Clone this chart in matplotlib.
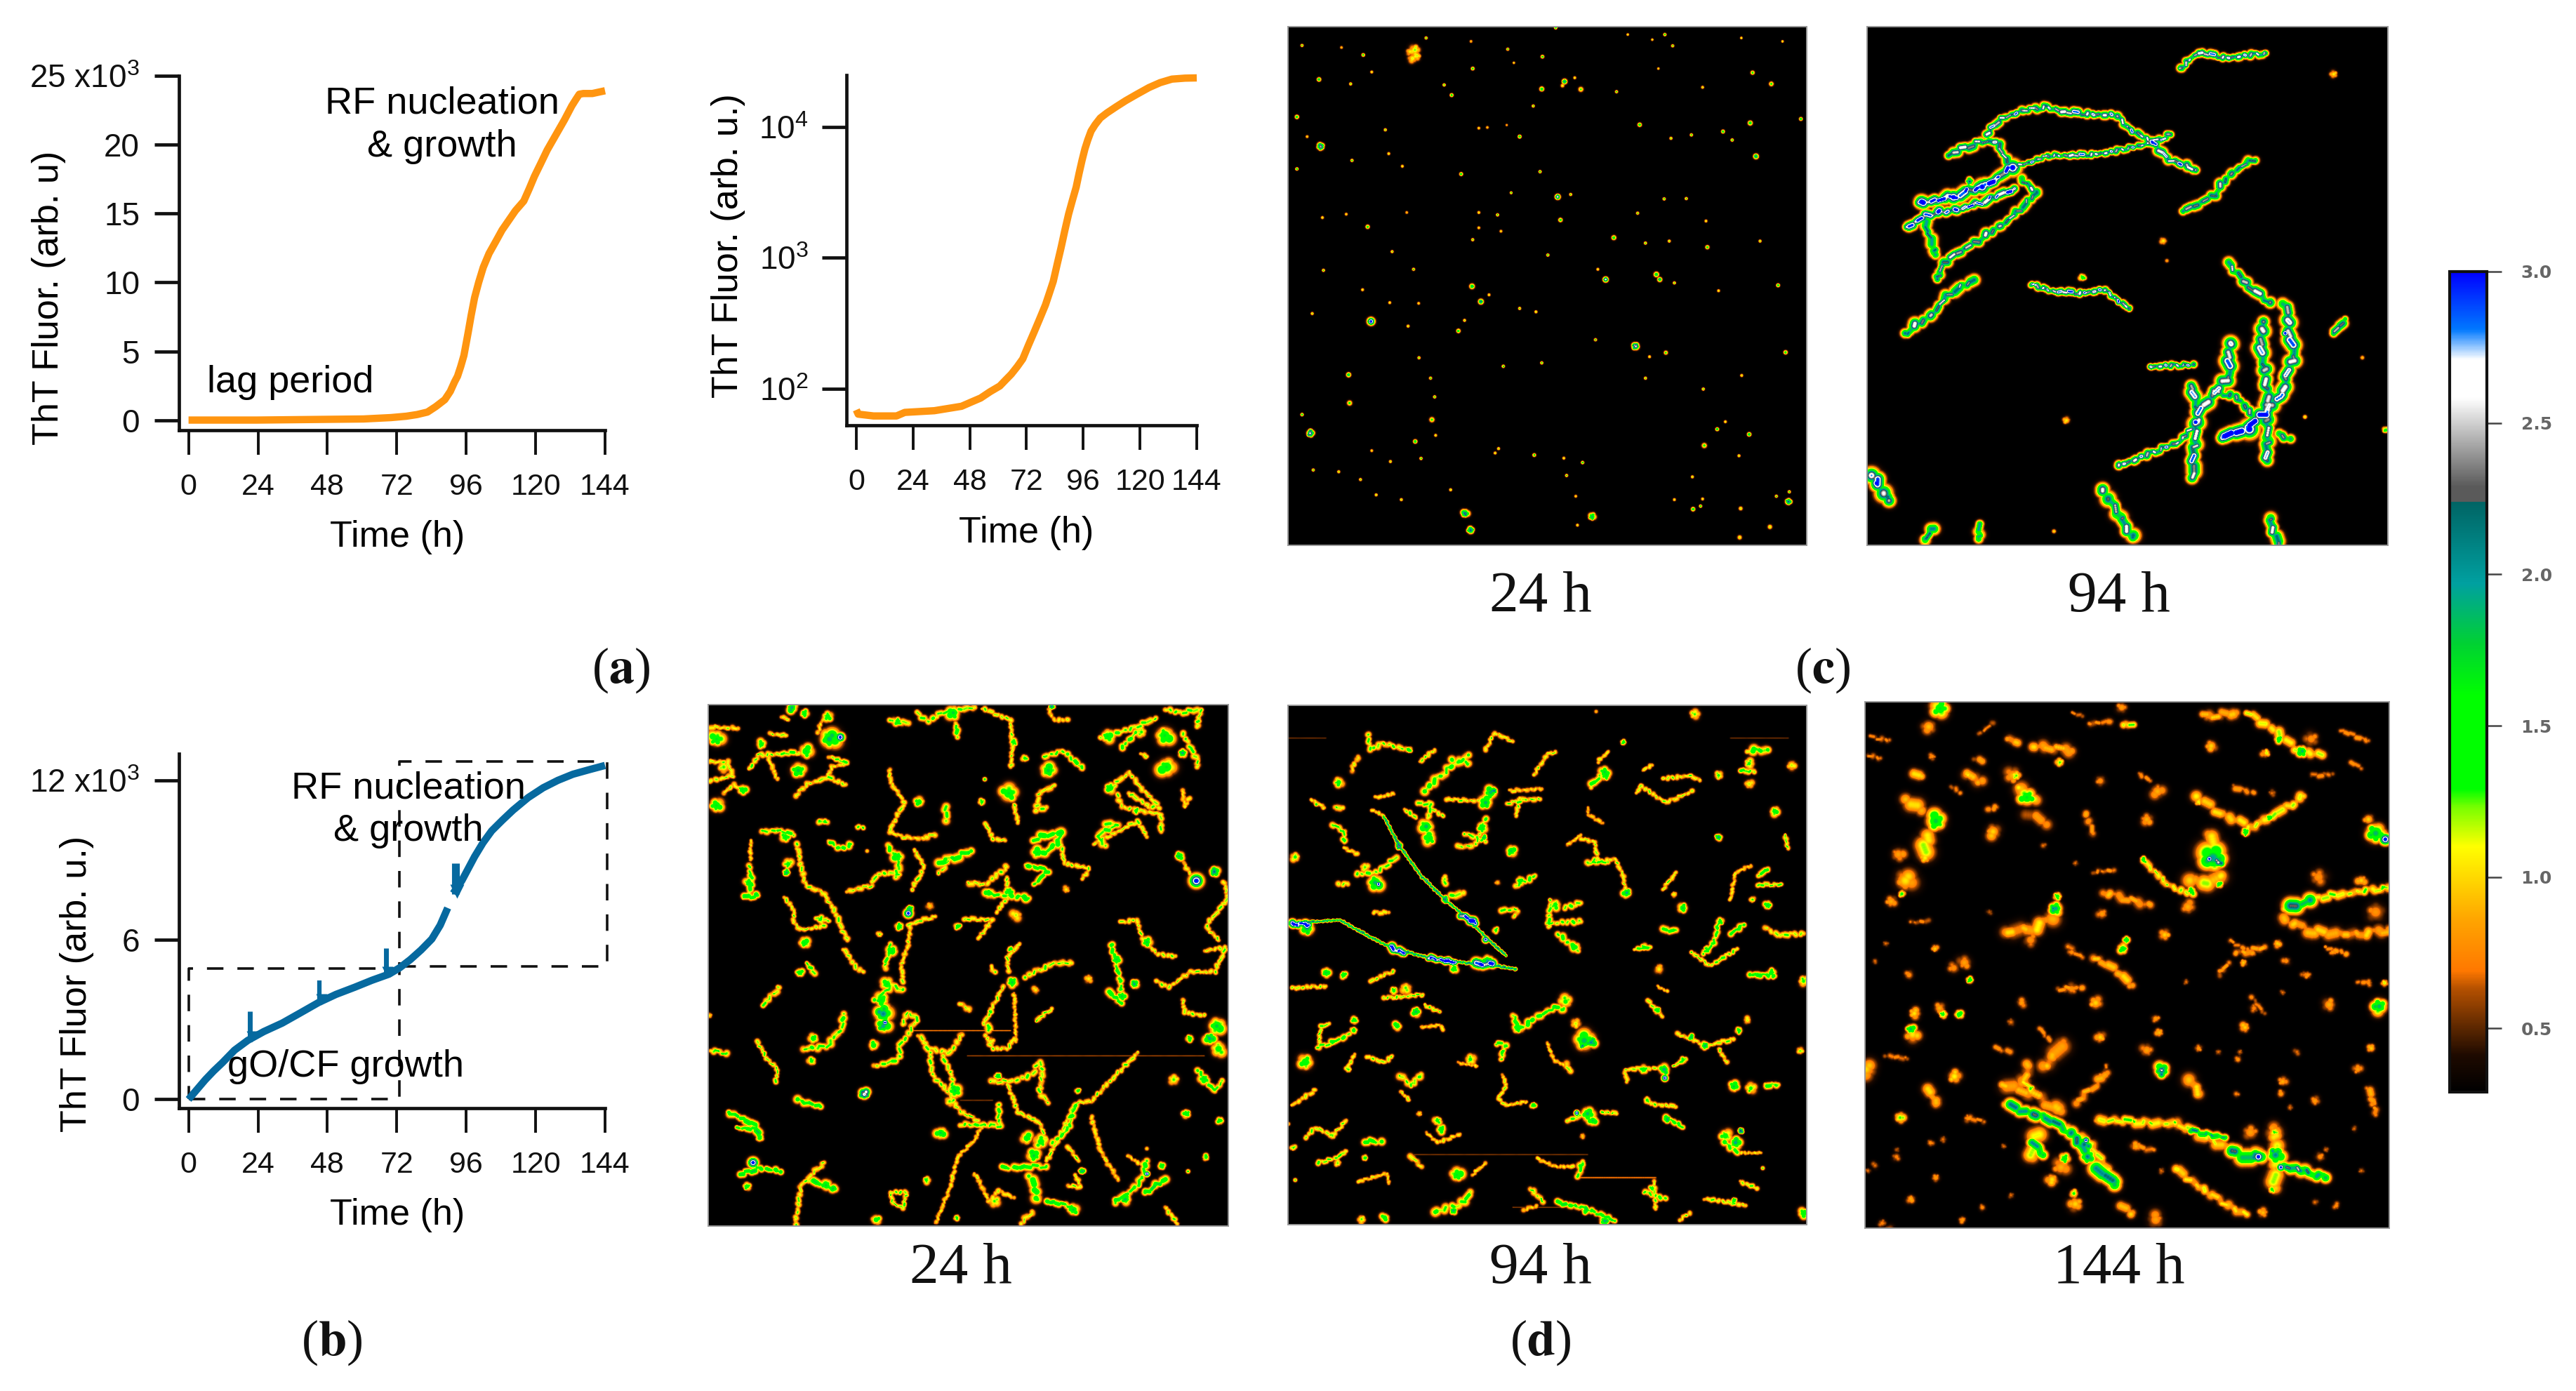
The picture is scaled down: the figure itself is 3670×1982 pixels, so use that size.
import numpy as np
import matplotlib
matplotlib.use("Agg")
import matplotlib.pyplot as plt
from matplotlib.colors import LinearSegmentedColormap, Normalize
from matplotlib.cm import ScalarMappable

W, H = 3670, 1982
DPI = 100
plt.rcParams['font.family'] = ['Liberation Sans', 'DejaVu Sans']
plt.rcParams['mathtext.fontset'] = 'custom'
plt.rcParams['mathtext.rm'] = 'Liberation Sans'
plt.rcParams['mathtext.it'] = 'Liberation Sans'
plt.rcParams['mathtext.default'] = 'regular'

# ---------------- curve data ----------------
time_ticks = [0, 24, 48, 72, 96, 120, 144]

a_time = [0, 23.5, 60.5, 70, 75.3, 79, 82.6, 85.5, 88.6, 90.5, 92, 93, 94.1, 95.2, 96, 96.7, 97.7, 98.9, 100.3, 101.9, 103.9, 106.3, 108.4, 110.7, 113, 115.9, 117.8, 119.6, 121.7, 124, 127, 130, 132.5, 134, 135.1, 136.5, 139.6, 144]
a_fluor = [0.02, 0.02, 0.1, 0.2, 0.3, 0.42, 0.6, 1.0, 1.5, 2.1, 2.8, 3.2, 3.9, 4.7, 5.6, 6.4, 7.6, 8.9, 10, 11.1, 12.1, 13.0, 13.8, 14.5, 15.2, 15.9, 16.8, 17.7, 18.6, 19.6, 20.7, 21.8, 22.8, 23.3, 23.65, 23.7, 23.7, 23.9]
a_yticks = [0, 5, 10, 15, 20, 25]
a_ylabels = ['0', '5', '10', '15', '20', '25 x10$^{3}$']

log_time = [0, 0.8, 7.3, 17, 20.5, 33, 44.5, 48.5, 52.6, 56.6, 60.7, 63, 65.5, 68, 70.4, 72.8, 75.2, 77.5, 80, 81.7, 83.3, 85, 86.6, 88.2, 89.8, 91.4, 93, 94.2, 95.5, 96.7, 97.9, 99.3, 101, 103.2, 106, 110, 114, 118.5, 123.8, 128.5, 133.5, 139, 144]
log_fluor = [69, 64, 62, 62, 66, 68, 73.5, 79, 85, 95, 105, 116, 129, 147, 169, 215, 271, 340, 437, 540, 661, 900, 1195, 1620, 2160, 2750, 3470, 4400, 5580, 6800, 7950, 9300, 10400, 11700, 12800, 14300, 15900, 17700, 20000, 21800, 23200, 23600, 23700]
log_yticks = [100, 1000, 10000]
log_ylabels = ['10$^{2}$', '10$^{3}$', '10$^{4}$']

b_time_early = [0, 2.9, 5.8, 8.7, 11.7, 15.9, 20.5, 26, 32.4, 38.6, 44.9, 51, 57.5, 63.4, 69.3, 73, 76.7, 80.4, 84.1, 87, 89.6]
b_fluor_early = [0, 0.37, 0.74, 1.07, 1.38, 1.85, 2.22, 2.55, 2.87, 3.25, 3.64, 3.95, 4.22, 4.48, 4.71, 4.95, 5.26, 5.62, 6.03, 6.55, 7.2]
b_time_late = [91.5, 94.5, 96.7, 98.9, 101.8, 104.8, 108.5, 112.2, 117.4, 122.6, 127.7, 132.9, 138.5, 144]
b_fluor_late = [7.75, 8.23, 8.68, 9.13, 9.65, 10.1, 10.5, 10.88, 11.35, 11.72, 12.0, 12.23, 12.4, 12.56]
b_yticks = [0, 6, 12]
b_ylabels = ['0', '6', '12 x10$^{3}$']
seed_time = [21.3, 45.3, 68.2, 92.3]
seed_top = [3.32, 4.48, 5.7, 8.87]
seed_base = [2.25, 3.64, 4.67, 7.71]
box_early = ([0, 73, 73, 0, 0], [0, 0, 4.93, 4.93, 0])
box_late = ([73, 144.8, 144.8, 73, 73], [5.0, 5.0, 12.72, 12.72, 5.0])

# colour scale of the height images: (height, colour)
scale_heights = [0.29, 0.41, 0.63, 0.69, 0.86, 1.10, 1.23, 1.29, 1.60, 1.77, 1.97, 2.24, 2.241, 2.29, 2.47, 2.585, 2.71, 2.81, 3.0]
scale_colours = ['#000000', '#1e0a00', '#b45000', '#ff7800', '#ffa500', '#ffff00', '#78ff00', '#00ff00', '#00ff00',
                 '#00d232', '#00a0a0', '#006464', '#5a5a5a', '#5a5a5a', '#bebebe', '#ffffff', '#ffffff', '#0078ff', '#0000ff']
scale_ticks = [0.5, 1.0, 1.5, 2.0, 2.5, 3.0]

# surface texture read as typical changes along a fibre
bead_height = [1.0, 0.86, 1.12, 0.93, 1.2, 0.8, 1.05, 0.9, 1.15, 0.84, 1.08, 0.95, 1.22, 0.88, 1.0, 1.1, 0.82, 1.17]
bead_width = [1.0, 0.8, 1.25, 0.9, 1.1, 0.7, 1.3, 1.0, 0.85, 1.2, 0.75, 1.05]
bead_shift = [0.0, 0.7, -0.5, 0.3, -0.8, 0.5, -0.2, 0.9, -0.6, 0.1, -0.9, 0.4, 0.6]

# ---------------- height images: (height, width, x, y, x, y, ...) ----------------
c24_dots = [
(0.95,9,392,95),(0.85,8,385,120),(0.9,7,398,112),(0.8,7,378,100),(1.2,3,60,82),(0.8,3,176,88),(1.3,3.5,240,110),(1.6,4,110,182),(1.2,3,203,195),(1.0,3,265,160),
(1.5,4,45,292),(1.2,3,305,330),(0.9,3,75,350),(2.3,6,115,380),(1.0,3,315,400),(1.3,3,207,420),(1.5,3,45,445),(1.0,3,355,437),(1.2,3,425,60),(0.8,3,557,70),
(1.2,3,665,93),(1.4,3.5,562,150),(1.3,3,478,198),(1.5,3.5,500,228),(1.3,3.5,767,115),(1.0,2.5,683,133),(1.6,4.5,765,210),(1.9,5,832,188),(0.9,4,826,200),(1.1,5,880,211),
(1.0,3,862,177),(1.2,3,985,218),(1.1,2.5,1018,50),(1.4,3,1127,50),(1.2,3,1150,83),(1.0,2.5,1108,150),(1.0,2.5,1090,65),(1.1,2.5,1352,60),(1.1,2.5,1473,70),(1.3,4,1385,162),
(1.2,4.5,1440,195),(1.0,3,1238,205),(1.5,3.5,1527,298),(1.6,4.5,1378,310),(1.6,3.5,1298,335),(1.4,3,1325,360),(1.9,5,1395,408),(1.3,3,1205,345),(1.2,3,1145,355),(1.5,4,1053,315),
(0.9,3,580,325),(0.8,3,605,323),(0.8,2.5,662,316),(1.6,3.5,700,350),(1.2,3,740,260),(1.4,3,760,453),(1.5,3.5,528,460),(1.5,2.5,675,515),(2.5,5,812,527),(1.2,3,850,520),
(1.3,3,1125,533),(1.2,3,1190,532),(1.2,3,1047,575),(1.5,4,820,595),(1.5,4.5,977,647),(1.3,3,1070,663),(1.3,4,1252,675),(1.1,3,1140,657),(1.1,3,1407,657),(1.0,3,1248,598),
(1.0,3,580,573),(1.3,3,635,580),(0.9,3,580,618),(1.2,3,562,653),(0.9,3,645,628),(1.4,4,253,615),(0.9,3,190,578),(0.8,3,368,573),(1.0,3,120,588),(1.1,3,325,688),
(1.2,3,123,743),(1.2,3,388,740),(1.3,3,783,698),(1.0,3,930,740),(2.5,5,953,770),(1.6,5,1102,755),(1.7,4.5,1112,770),(1.2,3,1155,780),(1.6,3.5,1460,787),(1.0,3,1285,803),
(1.7,5,560,790),(2.0,5,586,835),(1.2,3,700,855),(1.1,3,748,865),(1.0,3,610,815),(3.0,7,263,893),(1.1,3,90,870),(1.0,3,238,800),(1.0,3,318,838),(0.9,3,403,840),
(1.1,3,538,890),(1.5,4,520,921),(1.1,3,372,907),(1.2,3,404,1000),(1.4,3,652,1025),(1.3,3,765,1015),(1.2,3,923,947),(2.4,6,1042,967),(1.0,3,1082,997),(1.2,4,1130,985),
(1.4,4,1482,984),(1.2,3,1070,1060),(1.0,3,1353,1052),(1.7,4.5,197,1050),(1.2,5,200,1133),(1.2,3,438,1060),(1.3,3,450,1115),(1.2,5,442,1182),(1.6,3,60,1167),(2.4,6,84,1222),
(1.6,4,393,1246),(1.0,3,453,1228),(0.9,3,265,1273),(1.1,3,320,1305),(1.3,3,410,1296),(1.1,3,638,1267),(1.0,3,628,1280),(1.3,3.5,743,1286),(1.5,3,885,1308),(1.0,3,830,1295),
(1.2,3,838,1346),(1.2,3,1240,1092),(1.6,3.5,1281,1210),(1.7,4,1375,1225),(1.2,5,1243,1258),(1.1,3,1345,1288),(1.2,3,93,1330),(1.1,3,168,1335),(1.1,3,232,1358),(1.1,3,278,1403),
(1.1,3,352,1417),(1.1,3,497,1388),(2.1,6.5,540,1458),(2.0,6,556,1508),(1.7,6,913,1467),(1.0,3,870,1492),(1.6,4,1210,1445),(1.4,3,1232,1436),(1.0,4,1350,1443),(2.0,5.5,1490,1423),
(1.2,3,1455,1407),(1.3,3,1493,1394),(1.0,4.5,1436,1497),(0.95,4.5,1347,1528),(1.0,3,1155,1417),(0.9,3,865,1407),(1.0,3,1238,1415),(1.1,3,1208,1350),(1.0,3,1305,1188),(1.5,3,806,30),
]

c94_fibres = [
(2.3,7,245,405,335,365,380,365,410,425),(2.4,6,355,345,385,305,440,280,520,265,570,282,715,290,745,325,815,368,865,345),
(2.5,7,815,368,860,415,935,447),(2.4,5,425,440,530,405,620,405,700,395,815,368),(2.9,9,425,440,340,495,255,525,165,540),
(2.2,7,450,470,490,515,430,575,360,630,260,690,225,725,215,760),(2.7,7,430,500,340,540,250,565,185,575,130,610),
(2.0,8,175,580,210,690),(2.2,8,315,765,250,800,190,870,125,915),(2.5,5,475,775,540,795,610,800,680,790,750,845),
(2.4,5.5,890,158,940,110,1020,125,1130,112),(2.1,7,1100,415,1040,450,985,520,900,565),(2.2,8,1030,715,1080,780,1140,825),
(2.4,10,1185,825,1195,900,1210,970,1170,1100,1130,1130),(2.3,10,1120,880,1120,980,1135,1070,1135,1130,1135,1280),
(2.4,10,1030,945,1030,1030,990,1085,945,1130,935,1200,925,1330),(2.3,9,925,1065,945,1170),(2.1,7,990,1085,1050,1095,1090,1150),
(2.9,10,1140,1130,1085,1180,1010,1215),(2.4,6,720,1295,820,1255,890,1225,925,1190),(2.4,5,810,1010,930,1005),(2.1,7,1350,875,1320,915),
(2.5,11,30,1320,50,1350,80,1395),(2.2,10,675,1365,725,1440,760,1500),(2.0,8,205,1475,180,1505),(1.8,8,330,1465,330,1505),(2.2,9,1140,1440,1165,1520),
(2.0,8,1170,1205,1200,1218),
(3.2,14,425,440),(3.2,13,340,495),(3.2,12,260,525),(3.2,16,1085,1190),(3.2,10,935,1170),(3.2,10,45,1345),(3.2,7,1185,915),(3.2,8,815,368),
(1.1,6,1320,172),(1.1,6,845,650),(0.9,4,855,707),(1.6,6,620,755),(1.1,6,575,1165),(1.0,4,1400,985),(1.2,4,1240,1155),(1.1,4,540,1483),(1.6,5,1465,1193),(2.3,6,305,480),
]

d24_fibres = [
(0.75,1.6,590,938,860,938),(0.65,1.5,740,1010,1400,1010),(0.6,1.5,720,1137,810,1137),
(1.05,4.5,20,70,100,75),(1.1,4.5,20,170,70,170,85,210,20,225),(1.05,4.5,60,260,85,235,120,255),(1.2,4.5,130,190,160,150,270,145),(1.05,4,180,150,210,220),
(1.1,4.5,260,270,290,235,350,215,400,235),(1.05,4,350,215,360,185,400,175),(1.0,4,320,90,340,40),(1.1,4,220,40,240,50),(1.1,4,190,90,235,95),(1.2,4,355,155,405,175),
(1.7,12,40,105),(1.6,8,165,120),(1.7,11,290,140),(1.8,12,268,195),(1.9,15,355,105),(3.2,8,385,100),(1.7,11,40,295),(1.7,8,112,250),(2.0,8,250,15),(1.7,7,285,32),
(1.6,8,350,40),(1.3,10,60,185),
(1.05,4,522,190,525,230,565,285,520,370,560,385,620,390),(1.3,6,520,410,550,470,540,500),(1.15,4.5,405,540,470,525,490,490,550,490),(1.1,4,590,420,620,470,585,535),(1.7,9,545,440),(1.15,5,625,385,650,380),
(1.2,6,525,55,575,60),(1.7,7,545,55),(1.2,5,600,30,630,55,680,25,760,15),(1.8,11,700,30),(1.3,5,705,60,712,100),(1.1,4,780,18,860,50,865,130,860,185),(1.6,6,870,115),(1.5,6,900,160),
(1.7,8,605,285),(1.5,6,780,285),(1.2,6,680,295,680,340),(1.6,4,788,220),(1.2,4.5,320,342,350,342),(1.4,4,435,355),(1.1,4,460,425),
(1.7,14,855,260),(1.1,4,870,290,880,345),(1.8,12,965,195),(1.1,5,985,235,940,260,930,310,960,300),(1.3,5,950,155,1010,140,1060,190),(1.0,4,965,20,980,50,1020,50),(2.2,5,975,12),
(1.7,10,1130,97),(1.2,5,1110,100,1200,75,1265,45),(1.3,5,1170,130,1210,85),(1.7,14,1290,95),(1.7,14,1295,185),(1.2,5,1290,20,1330,30,1390,20,1380,70),(1.2,5,1340,90,1380,160,1380,185),(2.0,7,1340,145),
(1.1,4.5,1138,245,1190,200,1220,240,1275,300,1250,300,1190,260),(1.7,9,1138,245),(1.1,4.5,1160,265,1170,300,1280,320,1280,370),(1.3,6,1130,345,1160,350,1100,380,1125,410),(1.1,4,1090,405,1215,340,1240,385),(1.6,6,1210,310),
(1.35,8,1225,85),(1.2,4,1225,150,1240,155),(1.0,4,1340,250,1345,300,1360,275),
(1.3,5,165,370,210,365,255,380),(1.7,8,232,385),(1.0,3.5,135,395,135,450),(1.3,5,130,465,140,510,130,555),(1.7,8,130,515),(1.5,5,115,558,155,552),(2.0,6,235,487),(1.5,8,240,462),
(1.1,4.5,265,405,275,470,290,525,340,545,375,610,405,680),(1.1,4.5,395,705,430,760,450,770),(1.4,5,350,395,385,420,415,405),(1.3,4,325,340,345,340),(1.2,4,430,355,450,360),
(1.1,4,230,560,255,590,255,630,275,650,340,640,320,615,355,625),(1.7,9,285,687),(1.5,6,330,620),(1.7,7,272,772),(1.3,5,290,745,315,775),(1.2,5,170,865,215,815),
(1.5,7,660,460,750,425),(1.2,4.5,660,490,690,450),(1.1,5,740,515,790,520,850,470),(1.4,6,790,545,910,560),(1.7,8,800,545),(1.7,8,855,540),(1.1,4,820,600,850,560,850,500),(1.0,7,635,582),(1.2,9,875,608),
(2.0,6,580,590),(3.2,8,575,603),(1.7,7,550,640),(1.1,4,575,635,650,612),(1.7,6,713,640),(1.1,4,730,620,810,620,770,675),(1.3,5,495,663),
(1.05,4,580,640,575,690,555,750,560,800),(1.7,9,530,712),(1.3,5,510,760,525,690),(1.7,10,515,805),(1.3,6,480,850,530,810,560,820),(1.7,11,500,850),(2.1,14,505,890),(3.2,6,510,915),(2.0,11,505,925),(1.7,8,478,980),
(1.2,5,480,1040,550,1020,550,980,580,940,600,900,570,885,560,920),(1.1,5,605,950,630,990,690,1000,725,950),(1.15,4.5,635,1000,640,1060,690,1120,720,1170,770,1195),(1.15,4.5,670,1010,700,1075,690,1110),(1.8,10,705,1110),(1.3,8,690,1140),
(1.1,4,790,950,810,990,850,990,870,960),(1.1,4,785,920,840,810),(1.0,3.5,870,830,875,970),(1.8,9,865,800),(1.2,5,900,785,980,745,1030,745),(1.1,4,855,770,850,730,885,690),(1.6,5,860,705),(1.1,5,805,755,815,770),(1.1,6,930,822),(1.1,7,1078,790),
(1.1,5,720,860,745,880),(1.2,4,930,910,975,875),(1.5,7,800,930),(1.5,5,805,885),(1.2,7,805,970),
(1.4,7,925,390,1000,370,990,410,945,430),(1.7,9,935,430),(1.1,4,1000,400,1010,460,1080,475,1060,505),(1.4,5,900,465,965,480,925,520),(1.1,6,1015,535),(1.1,4,790,345,810,390,845,395),
(1.1,4,1165,630,1210,620,1230,680,1270,720,1320,725),(1.8,8,1240,685),(1.4,5,1140,690,1150,730,1165,790,1170,820),(1.8,7,1155,735),(1.5,6,1130,825,1170,860),(2.0,7,1205,805),(1.8,8,1170,840),
(1.9,7,1330,440),(3.2,12,1378,510),(2.2,8,1428,484),(1.1,4,1345,460,1360,490),(1.1,4,1455,510,1465,560,1405,640,1440,680),(1.1,4,1400,710,1460,700,1430,770,1360,770,1300,815,1265,795),
(1.1,4,1340,850,1345,885,1400,895),(1.8,13,1435,925),(2.0,9,1415,960),(1.5,12,1440,990),(1.7,6,1360,960),(1.3,9,1315,1078),(1.7,8,1400,1075),(1.3,5,1380,1050,1430,1110,1450,1080),
(1.7,7,1350,1175),(1.6,6,1445,1195),(1.7,5,1405,1300),(1.5,4,1355,1340),
(1.2,4,155,970,180,1020,210,1045,205,1085),(1.7,8,310,960),(1.3,6,280,990,345,985,390,930,395,890),(1.5,7,305,1025),(1.3,5,25,995,70,1003),(1.1,5,20,895),
(2.8,8,452,1120),(1.5,6,265,1135,330,1155),(1.5,6,75,1170,150,1210,160,1245),(1.4,5,95,1215,150,1220),(3.2,9,142,1315),(1.5,5,105,1350,160,1330,220,1340),(1.7,6,125,1383),(1.7,6,160,1245),
(1.1,4.5,260,1490,275,1380,340,1315),(1.8,8,345,1380),(1.5,7,300,1365,370,1390),(1.2,4,525,1400,570,1400,560,1445,530,1430,525,1400),(1.5,6,625,1365),(1.6,8,485,1478),(1.0,3.5,650,1490,690,1390,712,1300,760,1250,780,1210),
(1.3,5,720,1205,830,1210,825,1150),(1.8,9,665,1230),(1.0,4,760,1345,800,1425,825,1395,870,1415),(1.3,9,815,1425),(1.5,5,710,1472),(1.1,5,890,1490,920,1455),
(1.15,5,805,1085,870,1080,920,1065,940,1025,950,1060,940,1110,965,1145),(1.1,4,850,1085,880,1170,940,1200,960,1250),(1.8,6,825,1068),
(1.1,4,1215,1000,1130,1090,1085,1140,1040,1145,1000,1235,960,1310),(1.7,5,1048,1110),(1.3,5,1040,1150,1020,1220,975,1260),(1.0,4,1085,1185,1110,1280,1160,1365),
(1.7,9,905,1245),(1.5,12,945,1255),(1.8,10,925,1295),(1.4,6,840,1330,960,1325),(1.4,8,915,1350,935,1420),(1.5,5,960,1425,1030,1440),(1.8,9,1035,1450),(1.1,4,1020,1270,1050,1310),(2.0,5,1058,1340),(1.1,4,1020,1380,1055,1385,1040,1350),
(1.4,6,1150,1430,1220,1375,1240,1310),(3.2,5,1240,1347),(1.9,8,1180,1420),(1.7,6,1280,1325),(1.6,6,1290,1365,1235,1400),(1.0,3.5,1185,1295,1240,1330),(1.1,4,1240,1275),(1.1,4,1290,1440,1325,1490),
]

d94_fibres = [
(0.6,1.5,20,115,130,115),(0.6,1.5,390,1340,900,1340),(0.75,2,870,1408,1100,1408),(0.6,1.5,680,1495,840,1495),(0.6,1.5,1320,115,1490,115),
(2.0,2.5,300,345,345,430,410,520,480,590,540,640,610,710,660,755),(2.0,2.5,170,650,260,700,330,735,430,760,530,775,600,780,690,795),(2.0,2.2,30,660,170,650),
(3.2,6,30,662,80,665),(1.9,12,75,675),(3.2,6,320,730,360,748),(3.2,5,430,760,510,775),(3.2,8,575,780,620,778),(3.2,6,530,635,570,660),(3.2,6,600,708),(2.5,6,345,433),(2.2,6,480,590),(2.0,9,605,770),(1.7,7,505,795),
(1.2,5,255,105,260,150,300,130,370,150),(1.7,5,375,150),(1.15,4,405,185,450,150),(1.35,7,420,270,490,205,550,165),(1.25,7,500,180,550,190),(1.1,4,600,150,625,100,680,125),(1.1,4,740,225,780,165,805,155),(1.0,5,205,210,225,170),
(1.5,9,168,245),(1.7,4,102,310),(1.05,4,85,295,125,320),(1.2,5,155,320,180,320),(1.3,5,150,370,185,390,185,420),(1.0,4,185,440,225,455),(1.4,8,40,465),
(1.0,3.5,275,290,330,280),(1.0,3,265,325,300,345),(1.2,4,360,325,395,350),(1.9,12,425,375),(1.7,11,435,410),(1.2,5,400,310,440,305,430,350),(1.1,4,440,320,475,345),
(1.9,11,615,275),(1.9,11,600,305),(2.2,6,625,270),(1.1,4,480,295,580,300),(1.2,4.5,660,310,720,295,760,295),(1.1,4,700,290,690,345),(1.0,4,670,270,765,265),(1.7,8,590,380),(1.2,5,520,435,570,430,600,350),(1.3,5,540,395,600,420),(2.0,5,595,408),
(1.8,9,675,447),(1.3,5,690,550,745,520),(1.6,7,700,535),(1.0,5,635,540),(1.2,5,220,515,280,510,340,465),(1.9,13,275,540),(3.2,6,285,545),(1.3,8,245,495),(1.1,5,165,545,195,545),
(1.0,4,270,628,315,628),(1.2,5,480,525,480,545),(1.3,6,480,530),(1.2,6,500,580,535,570),(1.3,5,650,620,690,620),(1.1,5,680,640,695,625),(1.5,6,630,680),
(1.3,6,1015,575),(2.0,8,1015,570),(1.1,4,880,410,920,420,930,470,900,485,980,470,1005,520,1010,555),(1.0,3.5,840,430,880,400),(1.3,5,900,480,960,480),(0.9,3.5,900,320,900,340,945,365),
(1.7,8,955,225),(1.8,9,950,215),(1.3,6,910,260,935,225),(1.6,5,1005,128),(1.0,3.5,930,185,960,155),(1.0,4,925,37),(1.1,4,1045,275,1055,255,1130,305,1210,270),(1.05,3.5,1060,210,1090,195),(1.1,4,1120,235,1200,225,1230,240),(1.4,7,1285,225),(1.3,8,1215,45),
(1.5,7,1370,150,1430,150),(1.4,8,1375,190),(1.2,8,1375,250),(1.2,8,1500,195),(1.3,5,1350,210,1390,215),(1.6,8,1450,330),(2.1,6,1285,407),(1.2,4,1480,400,1490,440),
(1.5,9,805,605),(1.2,5,780,660,880,655),(1.2,5,790,590,785,670),(1.3,6,810,690,870,740),(1.5,8,865,730),(1.2,5,830,615,880,600),
(1.2,5,1155,575),(1.8,8,1180,615),(1.3,6,1125,680,1160,680),(1.0,3.5,1320,590,1335,510,1380,490),(1.3,5,1400,520,1430,500),(1.2,4,1400,548,1470,545),(1.8,7,1430,607),(1.4,5,1385,590),(1.1,4,1120,560,1160,510),
(1.7,6,1290,655),(1.4,5,1285,660,1270,720,1240,750),(1.2,4,1205,745,1260,785,1340,735),(1.5,5,1320,690,1360,665),(1.5,5,1250,735),(1.0,6,1110,790),(1.0,3,1105,845,1135,860),
(1.1,5,1420,670,1460,695,1535,690),(1.5,6,1065,730),(1.3,4,1040,735,1085,730),(1.4,5,1375,810,1450,815),(1.7,7,1440,805),(1.4,8,1535,830),
(1.8,8,130,805),(1.7,6,182,812),(1.1,4,30,850,130,845),(1.1,4,260,830,330,800),(1.5,7,330,858),(1.3,9,365,850),(1.2,4,300,880,415,870),(1.9,8,395,920),(1.2,4,420,900,465,920),(1.8,7,340,962),(1.0,3.5,410,965,470,960,475,975),
(1.6,6,215,945),(1.7,6,212,975),(1.2,4,110,1010,115,965,140,955),(1.3,5,105,1025,150,1010,200,985),(1.7,5,150,1010),(1.6,13,70,1068),(1.05,3.5,190,1090,215,1045),(1.1,4,250,1050,300,1070,325,1050),(1.4,5,197,1090),
(1.4,6,680,930,700,970,750,935,800,910,830,910),(1.7,8,695,970),(1.4,11,835,890),(1.2,8,865,955),(1.9,16,890,1005),(2.1,9,910,1010),(2.2,5,885,1020),(1.0,3.5,780,1010,800,1060,850,1090),(1.2,6,835,1075,850,1095),
(1.3,5,630,1015,660,1015,645,1060),(1.7,5,648,1040),(1.4,9,555,1060),(1.0,3,520,1070,575,1080),(1.2,6,350,1105,380,1140,410,1105),(1.3,6,385,1130),(1.1,3.5,350,1155,375,1180),
(1.05,3.5,650,1105,660,1140,635,1175,660,1195,720,1185),(1.7,5,740,1195),(1.5,6,1075,1180),(1.1,4,1085,1190,1160,1200),(1.4,5,1130,1230,1180,1260),(2.0,6,1135,1235),(1.1,8,1110,795),
(1.7,6,1105,915),(1.1,4,1075,885,1120,935),(1.2,6,1370,945),(1.6,6,1345,975),(1.1,4,1165,985,1250,1020,1330,1000),(2.0,7,1245,1020),(2.0,5,1205,995),(1.1,4,1285,1030,1310,1070),(1.3,6,1525,1035),
(1.6,8,1065,1090),(1.1,4,1015,1125,1010,1090,1110,1085),(2.0,9,1125,1090),(3.2,6,1127,1115),(1.2,4,1150,1080,1190,1060),(1.7,5,1180,1062),
(1.8,9,1330,1140),(1.4,9,1380,1145),(1.3,5,1420,1135,1460,1135),(1.3,6,1300,1300,1340,1335),(1.5,11,1305,1285),(2.0,10,1335,1305),(2.4,5,1350,1270),(1.0,3,1340,1335,1410,1335),(1.4,4,1415,1380),
(1.9,11,900,1220),(3.2,5,868,1218),(1.8,8,915,1240),(1.2,5,840,1240,880,1225),(1.2,4,940,1215,985,1220),(1.0,5,885,1285),
(1.5,7,458,1240),(1.7,8,470,1265),(1.0,3.5,425,1275,460,1305,525,1280),(1.1,5,405,1220),(1.0,4,30,1195,100,1150),(1.1,4,20,1250),
(1.1,4,70,1290,100,1260,150,1285,190,1240),(1.3,6,150,1285),(1.2,4,105,1365,160,1350,190,1330),(1.3,6,165,1365),(1.4,6,245,1300,295,1303),(1.7,5,245,1350),(1.4,5,35,1320),(1.4,4,40,1415),
(1.0,3.5,225,1420,310,1395,315,1425),(1.1,5,380,1345,410,1375),(1.7,11,515,1400),(1.0,3.5,560,1400,600,1365),(1.0,3.5,750,1350,800,1375,860,1375),(1.4,6,885,1360,870,1405),(1.6,5,885,1370),
(1.2,5,730,1440,770,1480),(1.0,4,710,1505,750,1490),(1.3,5,1065,1450,1130,1470),(1.1,4,1095,1420,1100,1500),(1.5,7,1090,1440),(1.1,4,1350,1420,1400,1440),(1.1,4,1245,1470,1310,1480,1365,1490),(1.7,5,1330,1475),
(1.2,7,450,1510,540,1480,555,1450),(2.0,6,505,1505),(1.3,7,235,1530),(1.7,7,303,1525),(1.5,5,810,1480,900,1500,980,1535),(2.0,7,950,1535),(1.8,6,895,1505),(1.7,8,1535,1512),(1.1,4,1170,1535,1200,1510),
]

d144_fibres = [
(1.7,14,222,18),(0.95,12,190,70),(0.8,6,200,155),(1.0,8,145,195,170,212),(0.85,11,290,205,340,225),(1.1,6,300,208),(0.8,9,410,105,440,115),(0.85,10,480,125,590,140),(1.3,7,557,172),
(0.9,14,425,210),(0.95,12,440,250,490,280),(1.7,14,465,272),(1.3,7,435,210),(0.8,12,470,315,520,350),(0.9,12,120,275,170,310),(1.8,16,210,340),(1.0,13,190,380,180,440),(1.1,9,180,445),
(1.05,17,125,510),(1.5,6,115,548),(0.9,10,85,570),(0.85,12,105,435),(1.0,12,370,370),(0.75,7,630,320,650,375),(0.9,10,800,335),(0.8,9,670,225),(0.9,12,830,255),(1.0,10,980,125),(0.85,9,730,15),
(1.2,7,760,62,735,65),(0.85,7,1130,145),(1.2,6,1135,145),(0.85,9,960,40,1050,30),(1.0,8,1080,25,1150,75,1220,135,1290,150),(1.7,7,1170,105),(1.9,9,1235,140),(0.8,12,1260,105),(0.8,9,975,40),
(0.9,9,940,270,1010,320,1075,345),(1.05,8,1240,270,1140,330,1075,370),(1.7,6,1145,330),(1.7,7,1077,372),(1.15,6,945,285),
(0.9,13,975,375,985,420),(2.0,22,985,445),(3.2,7,975,448),(2.6,8,1000,458),(1.0,16,1010,505,920,510),(1.1,6,790,450,860,525,930,550),(1.7,5,790,450),(1.7,6,925,540),(0.9,12,915,585),(1.7,6,1002,520),
(1.9,16,1440,375),(3.2,10,1467,392),(1.0,9,1420,335),(0.8,14,1280,500),(1.1,7,1185,590,1300,555,1477,530),(1.9,11,1195,585,1255,570),(1.6,5,1460,530),(0.85,10,1180,620,1260,655,1400,665,1477,650),(0.8,16,1440,600),(1.0,9,1400,510),
(2.0,11,545,590),(2.2,5,538,590),(1.5,7,550,555),(0.9,13,400,655,480,650,540,620),(0.8,12,475,680),(0.8,9,680,545,810,580),(0.85,9,675,605),(1.7,8,733,705),(1.7,6,745,680),(1.0,9,850,665),(0.8,7,590,715),(0.85,8,650,730,720,770,760,810),
(0.85,12,290,745),(0.8,10,260,760),(1.6,6,305,795),(1.0,6,208,705),(0.8,8,135,780),(0.8,10,590,820),(1.0,11,657,860),(0.85,8,450,860),(0.9,9,220,875),(1.5,6,230,893),(1.7,7,275,893),(1.05,9,150,890),(1.9,8,140,935),(1.05,13,145,950),(0.7,7,420,915),
(1.0,7,1165,690),(0.8,7,1050,720,1130,700),(1.0,6,1070,745),(0.75,6,1000,780,1030,745),(0.8,7,1190,740),(0.85,6,1320,715),(0.85,6,1250,780),(1.2,6,1465,803),(0.8,6,1420,803),(1.9,13,1450,870),(0.9,11,1310,865),(0.75,8,1100,875),(1.0,8,1075,930),
(0.85,7,825,905),(0.95,7,835,945),(0.85,11,800,995),(1.0,9,670,958),(1.0,7,1428,990),(0.85,6,945,990),(0.85,6,1055,1022),(0.85,8,1390,1050),
(2.2,12,842,1053),(2.7,5,842,1053),(0.95,11,915,1075,945,1120),(0.9,8,1180,1085),(0.85,7,1175,1120),(0.85,8,1270,1140),(0.8,7,1420,1100,1430,1150),
(1.0,15,15,1050),(1.1,11,262,1070),(0.85,9,190,1105,210,1150),(1.3,9,110,1188),(0.8,7,300,1190),(0.8,6,195,1260),(0.75,7,100,1300),(0.85,7,210,1360),(0.9,7,140,1420),(0.8,6,340,1445),(0.75,7,60,1490),(0.85,6,285,1480),(0.7,6,40,1325),
(0.85,14,570,975,510,1040),(0.85,12,470,1030,450,1090),(0.85,12,390,1090,480,1120,560,1170),(0.8,8,600,1150,690,1060),(1.0,7,455,1085,480,1110),(1.4,6,475,1105),
(1.0,8,405,1145,560,1210,640,1260,720,1380),(1.9,9,420,1155,520,1190,600,1240,635,1300),(2.2,12,625,1265),(3.2,6,630,1253),(2.1,12,635,1300),(1.9,12,660,1330,710,1380),(1.8,9,480,1260,510,1295),(1.7,8,570,1305),(1.0,13,490,1230,480,1300),(0.9,14,560,1330),(1.1,8,660,1195,770,1200,880,1205),
(1.4,5,765,1200),(1.0,9,880,1205,1020,1270,1110,1300),(1.8,6,920,1225,1020,1245),(1.9,12,1040,1290,1120,1300),(3.2,10,1112,1300),(2.1,14,1160,1295),(3.2,7,1175,1330),(2.1,9,1180,1325,1230,1340),(1.9,10,1230,1340,1300,1360),(1.0,12,1160,1215,1160,1390),(1.4,6,1157,1230),(1.5,6,1150,1393),(1.0,14,1160,1230),(0.85,13,1090,1230),
(1.05,10,535,1365),(1.4,7,596,1405),(1.0,12,600,1435),(0.85,8,720,1440,760,1460),(0.85,13,825,1480),(0.95,8,880,1330,950,1390,1030,1440,1080,1465),(0.95,8,1125,1460),(0.8,8,1285,1300),(0.8,6,1330,1440),(0.9,9,770,1270),(0.85,8,80,1510),
(0.7,5,30,100,80,108),(0.7,5,20,150,55,160),(0.65,5,370,60,330,90),(0.7,6,640,60,700,55),(0.65,5,590,30,620,40),(0.7,5,1340,80,1420,110),(0.7,5,1370,170,1400,190),(0.65,5,1260,210,1320,205),(0.7,6,1040,240,1100,260),(0.7,6,1150,260),(0.7,5,780,205,810,225),
(0.75,8,320,160,340,170),(0.65,5,250,240,280,260),(0.7,6,350,310,380,300),(0.7,6,510,410),(0.7,5,600,460),(0.7,5,650,485,710,480),(0.65,5,140,630,190,625),(0.7,5,70,690),(0.7,5,130,775),(0.7,5,40,740),(0.65,5,360,600),
(0.7,6,580,700,620,730),(0.75,6,550,820,620,815),(0.7,5,1030,680,1100,720),(0.75,5,1300,700,1360,720),(0.7,5,1390,800,1420,800),(0.7,5,1180,830),(0.7,6,1240,780),(0.65,5,1090,840,1130,890),(0.7,5,910,800),
(0.7,5,500,930,530,970),(0.7,6,380,990,420,1000),(0.65,5,70,1010,130,1020),(0.75,6,180,1100),(0.7,5,300,1190,345,1200),(0.7,5,400,1270),(0.65,5,690,1040,660,1090),(0.7,6,760,1270,820,1280),(0.7,5,1200,1160),(0.75,6,1430,1120,1440,1180),(0.7,5,1380,1220),(0.7,5,1300,1280),(0.7,5,1400,1340),(0.7,6,1270,1430),(0.7,5,840,1340),
(0.7,5,20,1340),(0.65,5,100,1280),(0.7,6,230,1250),(0.7,5,420,1410),(0.75,6,1050,1120),(0.7,5,1000,1000),(0.7,5,1060,1000),(0.7,6,1220,1000),
]

panel_frames = {'c24': (20, 1545, 28, 1550), 'c94': (20, 1470, 37, 1522), 'd24': (18, 1468, 8, 1495),
                'd94': (20, 1545, 20, 1545), 'd144': (13, 1477, 0, 1503)}
panel_text = ['24 h', '94 h', '24 h', '94 h', '144 h']
panel_letters = ['a', 'b', 'c', 'd']

# ---------------- helpers ----------------
fig = plt.figure(figsize=(W / DPI, H / DPI), dpi=DPI, facecolor='white')

def add_ax(x0, y0, x1, y1):
    return fig.add_axes([x0 / W, 1 - y1 / H, (x1 - x0) / W, (y1 - y0) / H])

def put(x, y, s, **kw):
    kw.setdefault('ha', 'center')
    kw.setdefault('va', 'center')
    fig.text(x / W, 1 - y / H, s, **kw)

norm = Normalize(scale_heights[0], scale_heights[-1])
stops = [(h - scale_heights[0]) / (scale_heights[-1] - scale_heights[0]) for h in scale_heights]
afm_cmap = LinearSegmentedColormap.from_list('afm', list(zip(stops, scale_colours)), N=1024)

def beads(feature, k):
    """Turn one traced feature into closely spaced soft spots (x, y, height, width)."""
    h, s = feature[0], feature[1]
    pts = np.array(feature[2:], dtype=float).reshape(-1, 2)
    out = []
    if s <= 2:
        for p, q in zip(pts[:-1], pts[1:]):
            n = max(int(np.hypot(*(q - p)) / (s * 0.8)), 1)
            for i in range(n + 1):
                out.append((*(p + (q - p) * i / n), h, s))
        return out
    if len(pts) == 1:
        c = pts[0]
        out.append((c[0], c[1], h, s))
        if s >= 5 and h < 3.1:
            for i in range(5):
                a = 1.25 * i + k
                rad = s * (0.5 + 0.45 * bead_width[(k + i) % len(bead_width)])
                out.append((c[0] + rad * np.cos(a), c[1] + rad * np.sin(a),
                            h * 0.8 * bead_height[(k + 3 * i) % len(bead_height)], s * 0.75 * bead_width[(k + 2 * i) % len(bead_width)]))
        return out
    j = k
    for p, q in zip(pts[:-1], pts[1:]):
        n = max(int(np.hypot(*(q - p)) / (s * 0.4)), 1)
        for i in range(n):
            j += 1
            c = p + (q - p) * i / n
            g = j // 4
            w = (j % 4) / 4
            shx = (1 - w) * bead_shift[g % len(bead_shift)] + w * bead_shift[(g + 1) % len(bead_shift)]
            shy = (1 - w) * bead_shift[(g * 5 + 3) % len(bead_shift)] + w * bead_shift[((g + 1) * 5 + 3) % len(bead_shift)]
            out.append((c[0] + shx * s * 0.8, c[1] + shy * s * 0.8, h * bead_height[g % len(bead_height)],
                        s * bead_width[g % len(bead_width)]))
    c = pts[-1]
    out.append((c[0], c[1], h, s))
    return out

def height_map(features, frame, n=620):
    x0, x1, y0, y1 = frame
    xs = np.linspace(x0, x1, n)
    ys = np.linspace(y0, y1, n)
    field = np.full((n, n), scale_heights[0])
    for k, f in enumerate(features):
        for bx, by, h, s in beads(f, k * 7):
            r = 3.2 * s
            i0, i1 = np.searchsorted(xs, [bx - r, bx + r])
            j0, j1 = np.searchsorted(ys, [by - r, by + r])
            if i1 <= i0 or j1 <= j0:
                continue
            X, Y = np.meshgrid(xs[i0:i1], ys[j0:j1])
            val = scale_heights[0] + (h - scale_heights[0]) * np.exp(-((X - bx) ** 2 + (Y - by) ** 2) / (2 * s * s))
            field[j0:j1, i0:i1] = np.maximum(field[j0:j1, i0:i1], val)
    return np.minimum(field, scale_heights[-1])

def afm_panel(rect, features, frame):
    ax = add_ax(*rect)
    ax.imshow(height_map(features, frame), cmap=afm_cmap, norm=norm, extent=(frame[0], frame[1], frame[3], frame[2]),
              aspect='auto', interpolation='bilinear', interpolation_stage='data')
    ax.set_xticks([])
    ax.set_yticks([])
    for sp in ax.spines.values():
        sp.set_color('#9a9a9a')
        sp.set_linewidth(1.4)
    return ax

LW = 3.4
TL = 25
def style(ax, xlim, ylim, yticks, ylabels, ypad=15, xpad=19):
    ax.set_xlim(*xlim)
    ax.set_ylim(*ylim)
    ax.set_xticks(time_ticks)
    ax.set_xticklabels([str(t) for t in time_ticks])
    ax.set_yticks(yticks)
    ax.set_yticklabels(ylabels)
    ax.minorticks_off()
    ax.tick_params(axis='x', length=TL, width=LW - 0.6, labelsize=31, pad=xpad, color='#111111', labelcolor='#111111')
    ax.tick_params(axis='y', length=TL, width=LW, labelsize=33, pad=ypad, color='#111111', labelcolor='#111111')
    ax.spines['top'].set_visible(False)
    ax.spines['right'].set_visible(False)
    for s in ('left', 'bottom'):
        ax.spines[s].set_linewidth(LW)
        ax.spines[s].set_color('#111111')
    ax.patch.set_alpha(0)

ORANGE = '#FF9510'
BLUE = '#06699F'
LAB = 37.5
ANN = 39

# (a) linear curve
ax = add_ax(254.6, 107.7, 862, 612.5)
ax.plot(a_time, a_fluor, color=ORANGE, lw=7.5, solid_capstyle='butt', solid_joinstyle='round', clip_on=False)
style(ax, (-3.4, 144), (-0.69, 25), a_yticks, a_ylabels)
put(70, 424, 'ThT Fluor. (arb. u)', rotation=90, fontsize=LAB)
put(566, 766, 'Time (h)', fontsize=LAB)
put(630, 148, 'RF nucleation', fontsize=ANN)
put(630, 209, '& growth', fontsize=ANN)
put(414, 545, 'lag period', fontsize=ANN)

# (a) log curve
ax = add_ax(1206, 107, 1705, 606)
ax.semilogy(log_time, log_fluor, color=ORANGE, lw=7.5, solid_capstyle='butt', solid_joinstyle='round', clip_on=False)
style(ax, (-4.15, 144), (52.6, 24900), log_yticks, log_ylabels, ypad=14)
put(1037, 350, 'ThT Fluor. (arb. u.)', rotation=90, fontsize=LAB)
put(1462, 759, 'Time (h)', fontsize=LAB)

# (b) seeded curve
ax = add_ax(254.6, 1074, 862, 1579)
for bx, by in (box_early, box_late):
    ax.plot(bx, by, color='#111111', lw=2.6, dashes=(6.5, 5.5), clip_on=False)
ax.plot(b_time_early, b_fluor_early, color=BLUE, lw=7.5, solid_capstyle='butt', solid_joinstyle='round', clip_on=False)
ax.plot(b_time_late, b_fluor_late, color=BLUE, lw=7.5, solid_capstyle='butt', solid_joinstyle='round', clip_on=False)
for t, top, base, w in zip(seed_time, seed_top, seed_base, [5, 4.5, 5, 8]):
    ax.plot([t, t], [top, base], color=BLUE, lw=w, solid_capstyle='butt')
    ax.plot([t + 0.6], [base + 0.12], marker='v', ms=w + 7, color=BLUE, mec='none')
style(ax, (-3.4, 144), (-0.33, 13.0), b_yticks, b_ylabels)
put(110, 1402, 'ThT Fluor (arb. u.)', rotation=90, fontsize=LAB)
put(566, 1732, 'Time (h)', fontsize=LAB)
put(582, 1123, 'RF nucleation', fontsize=ANN)
put(582, 1184, '& growth', fontsize=ANN)
put(492, 1520, 'gO/CF growth', fontsize=ANN)

# height images (24 h dots are small; the trace under-read their brightness)
c24_bright = [(d[0] + 0.3, d[1] * 0.95, d[2], d[3]) for d in c24_dots]
afm_panel((1835, 38, 2574, 777), c24_bright, panel_frames['c24'])
afm_panel((2660, 38, 3402, 777), c94_fibres, panel_frames['c94'])
afm_panel((1009, 1004, 1750, 1747), d24_fibres, panel_frames['d24'])
afm_panel((1835, 1005, 2574, 1745), d94_fibres, panel_frames['d94'])
afm_panel((2657, 1000, 3404, 1750), d144_fibres, panel_frames['d144'])

# colour scale
cax = add_ax(3490, 387, 3543, 1556)
cb = fig.colorbar(ScalarMappable(norm=norm, cmap=afm_cmap), cax=cax, ticks=scale_ticks)
cb.ax.set_yticklabels(['%.1f' % t for t in scale_ticks], fontsize=18, color='#666666', family='DejaVu Sans', fontweight='bold')
cb.ax.tick_params(length=15, width=1.8, color='#444444', pad=20)
cb.outline.set_edgecolor('#111111')
cb.outline.set_linewidth(3)

# labels
SER = ['Liberation Serif', 'DejaVu Serif']
for (x, y), s in zip([(2195, 851), (3019, 851), (1369, 1808), (2195, 1808), (3019, 1808)], panel_text):
    put(x, y, s, fontsize=60, family=SER, color='#111111')
for (x, y), s in zip([(885, 955), (473, 1913), (2597, 955), (2195, 1913)], panel_letters):
    fig.text(x / W, 1 - y / H, '(' + r'$\mathbf{' + s + '}$' + ')', ha='center', va='center', fontsize=52,
             family=SER, math_fontfamily='stix', color='#111111')

fig.savefig('out.png', dpi=DPI, facecolor='white')
